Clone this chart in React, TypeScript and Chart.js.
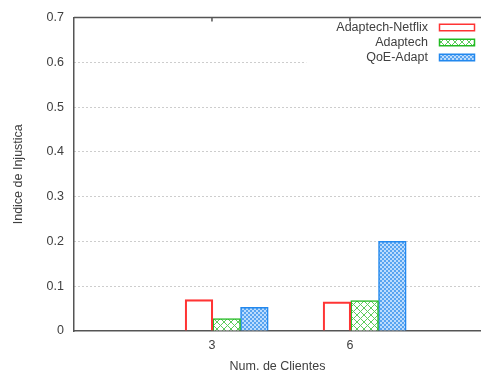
import { useEffect, useRef } from 'react';
import { Chart, registerables } from 'chart.js';

Chart.register(...registerables);

// ---- data ----
const categories = [3, 6];
const seriesNames = ['Adaptech-Netflix', 'Adaptech', 'QoE-Adapt'];
const adaptechNetflix = [0.070, 0.065];
const adaptech = [0.028, 0.068];
const qoeAdapt = [0.053, 0.200];
const yTickValues = [0, 0.1, 0.2, 0.3, 0.4, 0.5, 0.6, 0.7];
const xTickValues = [3, 6];
const xTitle = 'Num. de Clientes';
const yTitle = 'Indice de Injustica';

// ---- style / layout ----
const FONT = 'Liberation Sans';
const FONT_SIZE = 12.5;
const TEXT_COLOR = '#404040';
const AXIS_COLOR = '#555555';
const GROUP_SHIFT = 0.32; // cluster centre sits right of the tick (gnuplot histogram)
const BAR_W = 27.7;
const X_MIN = 0;
const X_MAX = 8.85;

function makeCrossPattern(): CanvasPattern | string {
  const c = document.createElement('canvas');
  c.width = 7; c.height = 7;
  const g = c.getContext('2d');
  if (!g) return '#aee8ae';
  g.fillStyle = '#ffffff';
  g.fillRect(0, 0, 7, 7);
  g.strokeStyle = '#5ccc5c';
  g.lineWidth = 1;
  g.beginPath();
  g.moveTo(0, 0); g.lineTo(7, 7);
  g.moveTo(7, 0); g.lineTo(0, 7);
  g.stroke();
  return g.createPattern(c, 'repeat') || '#aee8ae';
}

function makeCheckPattern(): CanvasPattern | string {
  const c = document.createElement('canvas');
  c.width = 4; c.height = 4;
  const g = c.getContext('2d');
  if (!g) return '#8cc2f7';
  g.fillStyle = '#bcdcfd';
  g.fillRect(0, 0, 4, 4);
  g.fillStyle = '#58a4f0';
  g.fillRect(0, 0, 2, 2);
  g.fillRect(2, 2, 2, 2);
  return g.createPattern(c, 'repeat') || '#8cc2f7';
}

export default function App() {
  const ref = useRef<HTMLCanvasElement | null>(null);

  useEffect(() => {
    const canvas = ref.current;
    if (!canvas) return;
    const cross = makeCrossPattern();
    const check = makeCheckPattern();
    const borders = ['#ff3434', '#22bb22', '#2288ee'];
    const fills: any[] = ['rgba(255,255,255,0)', cross, check];
    const values = [adaptechNetflix, adaptech, qoeAdapt];

    const keyPlugin = {
      id: 'gnuKey',
      afterDraw(chart: any) {
        const { ctx, chartArea } = chart;
        const { top, left, right } = chartArea;
        ctx.save();
        ctx.font = `${FONT_SIZE}px "${FONT}"`;
        const boxRight = right - 6.5;
        const boxW = 35;
        const boxH = 6.5;
        const boxLeft = boxRight - boxW;
        const textRight = boxLeft - 11.5;
        let maxW = 0;
        seriesNames.forEach((n) => { maxW = Math.max(maxW, ctx.measureText(n).width); });
        // key background (hides grid under key)
        ctx.fillStyle = '#ffffff';
        ctx.fillRect(textRight - maxW - 30, top + 1, right - (textRight - maxW - 30), 47);
        seriesNames.forEach((name, i) => {
          const cy = top + 10 + i * 15;
          ctx.fillStyle = TEXT_COLOR;
          ctx.textAlign = 'right';
          ctx.textBaseline = 'middle';
          ctx.fillText(name, textRight, cy);
          ctx.fillStyle = fills[i];
          ctx.fillRect(boxLeft, cy - boxH / 2, boxW, boxH);
          ctx.strokeStyle = borders[i];
          ctx.lineWidth = 1.5;
          ctx.strokeRect(boxLeft, cy - boxH / 2, boxW, boxH);
        });
        // top border with inward ticks
        ctx.strokeStyle = AXIS_COLOR;
        ctx.lineWidth = 1.5;
        ctx.beginPath();
        ctx.moveTo(left, top);
        ctx.lineTo(right, top);
        const xs = chart.scales.x;
        xTickValues.forEach((v) => {
          const px = xs.getPixelForValue(v);
          ctx.moveTo(px, top);
          ctx.lineTo(px, top + 4);
        });
        ctx.stroke();
        ctx.restore();
      },
    };

    const chart = new Chart(canvas, {
      type: 'bar',
      data: {
        datasets: seriesNames.map((name, i) => ({
          label: name,
          data: categories.map((c, j) => ({ x: c + GROUP_SHIFT, y: values[i][j] })),
          backgroundColor: fills[i],
          borderColor: borders[i],
          borderWidth: 1.5,
          barThickness: BAR_W,
          grouped: true,
        })),
      },
      options: {
        responsive: false,
        animation: false,
        devicePixelRatio: 1,
        layout: { padding: { top: 16, right: 0, left: 0, bottom: 0 } },
        plugins: {
          legend: { display: false },
          tooltip: { enabled: false },
        },
        scales: {
          x: {
            type: 'linear',
            min: X_MIN,
            max: X_MAX,
            offset: false,
            grid: { display: false, offset: false, drawTicks: false },
            border: { display: true, color: AXIS_COLOR, width: 1.5 },
            afterBuildTicks: (s: any) => { s.ticks = xTickValues.map((v) => ({ value: v })); },
            afterFit: (s: any) => { s.height = 43; },
            ticks: {
              padding: 7,
              color: TEXT_COLOR,
              font: { family: FONT, size: FONT_SIZE },
              callback: (v: any) => String(v),
              maxRotation: 0,
              autoSkip: false,
            },
            title: {
              display: true,
              text: xTitle,
              color: TEXT_COLOR,
              font: { family: FONT, size: FONT_SIZE },
              padding: { top: 0, bottom: 0 },
            },
          },
          y: {
            type: 'linear',
            min: 0,
            max: 0.7,
            afterBuildTicks: (s: any) => { s.ticks = yTickValues.map((v) => ({ value: v })); },
            afterFit: (s: any) => { s.width = 74; },
            grid: {
              drawTicks: false,
              lineWidth: 1,
              color: (c: any) => {
                const v = c.tick ? c.tick.value : 0;
                return v <= 1e-9 || v >= 0.7 - 1e-9 ? 'rgba(0,0,0,0)' : '#9a9a9a';
              },
            },
            border: { display: true, color: AXIS_COLOR, width: 1.5, dash: [1, 3] },
            ticks: {
              padding: 10,
              color: TEXT_COLOR,
              font: { family: FONT, size: FONT_SIZE },
              callback: (v: any) => String(Math.round(Number(v) * 10) / 10),
            },
            title: {
              display: true,
              text: yTitle,
              color: TEXT_COLOR,
              font: { family: FONT, size: FONT_SIZE },
              padding: { top: 11, bottom: 0 },
            },
          },
        },
      },
      plugins: [keyPlugin],
    } as any);

    return () => chart.destroy();
  }, []);

  return (
    <div style={{ position: 'absolute', left: 0, top: 0, width: 481, height: 374, background: '#fff' }}>
      <canvas ref={ref} width={481} height={374} style={{ display: 'block', width: 481, height: 374 }} />
    </div>
  );
}
